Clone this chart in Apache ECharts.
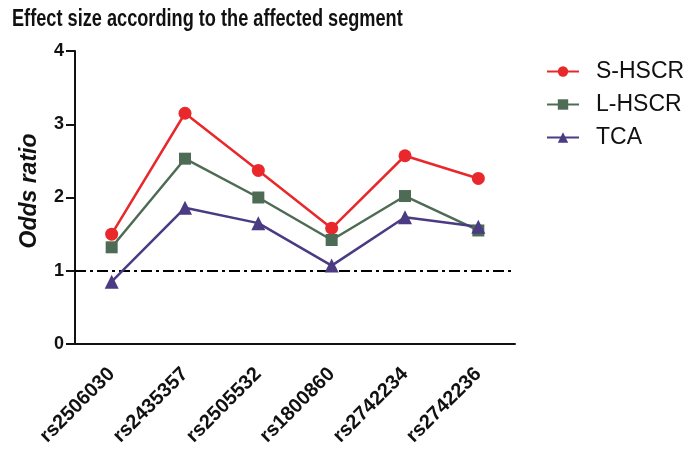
<!DOCTYPE html>
<html>
<head>
<meta charset="utf-8">
<script src="https://cdn.jsdelivr.net/npm/echarts@6/dist/echarts.min.js"></script>
<style>html,body{margin:0;padding:0;background:#fff}#c{width:691px;height:458px}</style>
</head>
<body>
<div id="c"></div>
<script>
var categories = ['rs2506030','rs2435357','rs2505532','rs1800860','rs2742234','rs2742236'];
var sHSCR = [1.50, 3.15, 2.37, 1.58, 2.57, 2.26];
var lHSCR = [1.32, 2.53, 2.00, 1.42, 2.02, 1.55];
var tca = [0.85, 1.86, 1.65, 1.07, 1.73, 1.60];
var yTicks = [0, 1, 2, 3, 4];
var refLine = 1;
var titleText = 'Effect size according to the affected segment';
var yName = 'Odds ratio';

var font = '"Liberation Sans", Arial, sans-serif';
var chart = echarts.init(document.getElementById('c'));
function ser(name, data, color, symbol, size) {
  return {
    name: name, type: 'line', data: data, symbol: symbol, symbolSize: size,
    lineStyle: {color: color, width: 2.5}, itemStyle: {color: color},
    emphasis: {disabled: true}, z: 3
  };
}
var series = [
  ser('S-HSCR', sHSCR, '#e8282b', 'circle', 13),
  ser('L-HSCR', lHSCR, '#4e6b55', 'rect', 12),
  ser('TCA', tca, '#4a3b82', 'triangle', 14)
];
series[0].markLine = {
  silent: true, symbol: ['none','none'], label: {show: false},
  lineStyle: {color: '#000', width: 2, type: [11, 4, 3, 4]},
  data: [{yAxis: refLine}], z: 1
};
chart.setOption({
  animation: false,
  graphic: [{
    type: 'text', x: 12, y: 8, scaleX: 0.79,
    style: {text: titleText, textAlign: 'left', textVerticalAlign: 'top',
      font: 'bold 23px "Liberation Sans", Arial, sans-serif', fill: '#111'}
  }, {
    type: 'text', x: 30, y: 191, rotation: Math.PI / 2,
    style: {text: yName, textAlign: 'center', textVerticalAlign: 'middle',
      font: 'italic bold 23px "Liberation Sans", Arial, sans-serif', fill: '#111'}
  }],
  legend: {
    orient: 'vertical', left: 546, top: 60, padding: 0, itemWidth: 32, itemHeight: 13, itemGap: 10,
    textStyle: {fontFamily: font, fontSize: 23, color: '#111', padding: [0,0,0,12]},
    data: ['S-HSCR','L-HSCR','TCA']
  },
  grid: {left: 75, right: 176, top: 51, bottom: 114, containLabel: false},
  xAxis: {
    type: 'category', data: categories, boundaryGap: true,
    axisLine: {lineStyle: {color: '#111', width: 2}},
    axisTick: {alignWithLabel: true, length: 9, lineStyle: {color: '#111', width: 2}},
    axisLabel: {rotate: 45, margin: 27, fontFamily: font, fontWeight: 'bold', fontSize: 20, color: '#111'}
  },
  yAxis: {
    type: 'value', min: yTicks[0], max: yTicks[yTicks.length-1], interval: 1,
    axisLine: {show: true, lineStyle: {color: '#111', width: 2}},
    axisTick: {show: true, length: 9, lineStyle: {color: '#111', width: 2}},
    splitLine: {show: false},
    axisLabel: {margin: 11, fontFamily: font, fontWeight: 'bold', fontSize: 18, color: '#111'}
  },
  series: series
});
</script>
</body>
</html>
